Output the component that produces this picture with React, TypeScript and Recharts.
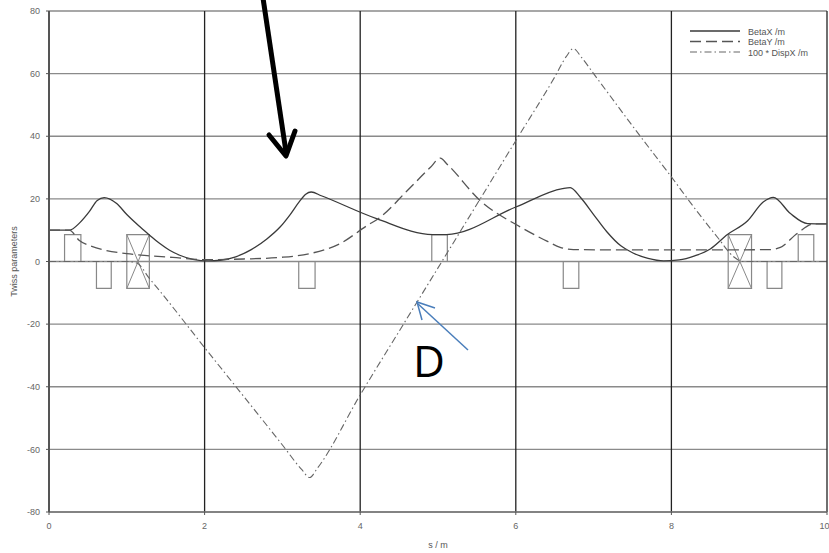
import React from 'react';
import {
  ComposedChart, Line, XAxis, YAxis, CartesianGrid, Legend,
  ReferenceArea, ReferenceLine,
} from 'recharts';

// Twiss functions along the cell
const betaX = [
  { s: 0, v: 10 }, { s: 0.26, v: 10 }, { s: 0.4, v: 12.5 }, { s: 0.52, v: 16 },
  { s: 0.62, v: 19.5 }, { s: 0.71, v: 20.4 }, { s: 0.87, v: 18.5 }, { s: 1.0, v: 15 },
  { s: 1.15, v: 11.5 }, { s: 1.29, v: 8.5 }, { s: 1.42, v: 5.8 }, { s: 1.55, v: 3.6 },
  { s: 1.68, v: 2.0 }, { s: 1.85, v: 0.7 }, { s: 2.05, v: 0.2 }, { s: 2.2, v: 0.4 },
  { s: 2.4, v: 1.5 }, { s: 2.6, v: 3.8 }, { s: 2.8, v: 7.2 }, { s: 2.97, v: 11 },
  { s: 3.1, v: 15 }, { s: 3.22, v: 19.2 }, { s: 3.3, v: 21.5 }, { s: 3.37, v: 22.2 },
  { s: 3.5, v: 21 }, { s: 4.21, v: 13.7 }, { s: 4.93, v: 8.6 }, { s: 5.11, v: 8.6 },
  { s: 6.0, v: 17.4 }, { s: 6.6, v: 23.3 }, { s: 6.7, v: 23.6 }, { s: 6.83, v: 20.5 },
  { s: 7.0, v: 15 }, { s: 7.17, v: 9.5 }, { s: 7.35, v: 5 }, { s: 7.5, v: 2.8 },
  { s: 7.7, v: 1 }, { s: 7.9, v: 0.2 }, { s: 8.1, v: 0.5 }, { s: 8.3, v: 1.8 },
  { s: 8.5, v: 4 }, { s: 8.72, v: 8.6 }, { s: 8.98, v: 13 }, { s: 9.18, v: 19 },
  { s: 9.31, v: 20.5 }, { s: 9.53, v: 15.3 }, { s: 9.75, v: 12.1 }, { s: 10, v: 12 },
];

const betaY = [
  { s: 0, v: 10 }, { s: 0.26, v: 10 }, { s: 0.39, v: 6.7 }, { s: 0.55, v: 4.8 },
  { s: 0.74, v: 3.5 }, { s: 1.0, v: 2.5 }, { s: 1.3, v: 1.8 }, { s: 1.59, v: 1.3 },
  { s: 2.02, v: 0.6 }, { s: 2.5, v: 0.8 }, { s: 2.97, v: 1.3 }, { s: 3.35, v: 2.5 },
  { s: 3.74, v: 5.7 }, { s: 4.09, v: 11.5 }, { s: 4.25, v: 14 }, { s: 4.6, v: 22.5 },
  { s: 4.9, v: 30 }, { s: 5.03, v: 33 }, { s: 5.12, v: 31 }, { s: 5.54, v: 19.5 },
  { s: 6.06, v: 11 }, { s: 6.4, v: 6.5 }, { s: 6.57, v: 4.5 }, { s: 6.74, v: 3.8 },
  { s: 7.5, v: 3.7 }, { s: 8.5, v: 3.7 }, { s: 9.27, v: 3.8 }, { s: 9.4, v: 4.5 },
  { s: 9.62, v: 9 }, { s: 9.83, v: 12 }, { s: 10, v: 12 },
];

const dispX = [
  { s: 0, v: 0 }, { s: 1.0, v: 0 }, { s: 1.13, v: -0.5 }, { s: 1.29, v: -5.4 },
  { s: 1.42, v: -9.3 }, { s: 2.0, v: -27.5 }, { s: 2.5, v: -43 }, { s: 3.0, v: -58.6 },
  { s: 3.25, v: -66.5 }, { s: 3.35, v: -69 }, { s: 3.45, v: -66 }, { s: 4.0, v: -42.6 },
  { s: 4.5, v: -22.3 }, { s: 4.9, v: -6.1 }, { s: 5.54, v: 19.9 }, { s: 6.02, v: 39.4 },
  { s: 6.5, v: 58.9 }, { s: 6.65, v: 65.5 }, { s: 6.74, v: 68 }, { s: 6.85, v: 65 },
  { s: 7.0, v: 60 }, { s: 7.6, v: 40 }, { s: 8.0, v: 27 }, { s: 8.33, v: 16 },
  { s: 8.6, v: 7.5 }, { s: 8.8, v: 1.5 }, { s: 8.92, v: 0 }, { s: 10, v: 0 },
];

// lattice elements: [start, end, bottom, top]
const magnets = [
  [0.2, 0.41, 0, 8.6], [0.61, 0.8, -8.6, 0], [3.21, 3.42, -8.6, 0],
  [4.92, 5.12, 0, 8.6], [6.61, 6.81, -8.6, 0], [9.23, 9.42, -8.6, 0],
  [9.63, 9.83, 0, 8.6],
];
const crossedBoxes = [[1.0, 1.29, -8.6, 8.6], [8.73, 9.03, -8.6, 8.6]];

const xTicks = [0, 2, 4, 6, 8, 10];
const yTicks = [-80, -60, -40, -20, 0, 20, 40, 60, 80];

const FONT = "'Liberation Sans Narrow', 'Liberation Sans', Arial, sans-serif";

const series = [
  { name: 'BetaX /m', data: betaX, stroke: '#3a3a3a', dash: undefined, width: 1.3 },
  { name: 'BetaY /m', data: betaY, stroke: '#555', dash: '11 5', width: 1.3 },
  { name: '100 * DispX /m', data: dispX, stroke: '#666', dash: '7 3 1.5 3', width: 1.1 },
];

const LegendBox = () => (
  <svg width={140} height={36}>
    {series.map((s, i) => (
      <g key={s.name}>
        <line x1={2} x2={52} y1={5 + i * 10.5} y2={5 + i * 10.5}
          stroke={s.stroke} strokeWidth={s.width} strokeDasharray={s.dash} />
        <text x={60} y={8.5 + i * 10.5} fontSize={9} fill="#555" fontFamily={FONT}>{s.name}</text>
      </g>
    ))}
  </svg>
);

const YLabel = (props: any) => {
  const vb = props.viewBox || { y: 11, height: 501 };
  const cy = vb.y + vb.height / 2;
  return (
    <text x={14} y={cy} transform={`rotate(-90 14 ${cy})`} textAnchor="middle"
      dominantBaseline="central" fontSize={9} fill="#555" fontFamily={FONT}>
      Twiss parameters
    </text>
  );
};

const XLabel = (props: any) => {
  const vb = props.viewBox || { x: 49, width: 778 };
  return (
    <text x={vb.x + vb.width / 2} y={548} textAnchor="middle" fontSize={9}
      fill="#555" fontFamily={FONT}>
      s / m
    </text>
  );
};

export default function App() {
  return (
    <div style={{ position: 'absolute', left: 0, top: 0, width: 829, height: 553, background: '#fff' }}>
      <ComposedChart width={829} height={553} margin={{ top: 11, right: 2, bottom: 11, left: 0 }}>
        <CartesianGrid horizontal vertical={false} stroke="#8a8a8a" strokeWidth={1.3} />
        <CartesianGrid horizontal={false} vertical stroke="#222" strokeWidth={1.3} />
        <XAxis type="number" dataKey="s" domain={[0, 10]} ticks={xTicks} height={30}
          allowDataOverflow tickSize={3} tickMargin={8}
          axisLine={{ stroke: '#777', strokeWidth: 1.5 }} tickLine={{ stroke: '#555' }}
          tick={{ fontSize: 9, fill: '#666', fontFamily: FONT }}
          label={<XLabel />} />
        <YAxis type="number" domain={[-80, 80]} ticks={yTicks} width={49}
          allowDataOverflow tickSize={3} tickMargin={6}
          axisLine={{ stroke: '#555', strokeWidth: 2 }} tickLine={{ stroke: '#555' }}
          tick={{ fontSize: 9, fill: '#666', fontFamily: FONT }}
          label={<YLabel />} />
        {magnets.map((m, i) => (
          <ReferenceArea key={`m${i}`} x1={m[0]} x2={m[1]} y1={m[2]} y2={m[3]}
            fill="none" fillOpacity={0} stroke="#888" strokeWidth={1.2} />
        ))}
        {crossedBoxes.map((b, i) => (
          <ReferenceArea key={`b${i}`} x1={b[0]} x2={b[1]} y1={b[2]} y2={b[3]}
            fill="none" fillOpacity={0} stroke="#888" strokeWidth={1.2} />
        ))}
        {crossedBoxes.map((b, i) => (
          <ReferenceLine key={`d1${i}`} segment={[{ x: b[0], y: b[2] }, { x: b[1], y: b[3] }]}
            stroke="#888" strokeWidth={1} />
        ))}
        {crossedBoxes.map((b, i) => (
          <ReferenceLine key={`d2${i}`} segment={[{ x: b[0], y: b[3] }, { x: b[1], y: b[2] }]}
            stroke="#888" strokeWidth={1} />
        ))}
        {series.map((s) => (
          <Line key={s.name} name={s.name} data={s.data} dataKey="v" type="monotone"
            stroke={s.stroke} strokeWidth={s.width} strokeDasharray={s.dash}
            dot={false} activeDot={false} isAnimationActive={false} />
        ))}
        <Legend layout="horizontal" verticalAlign="middle" align="center"
          content={() => <LegendBox />}
          wrapperStyle={{ top: 26, left: 688, width: 140, height: 36 }} />
      </ComposedChart>
      {/* hand-drawn annotations on top of the chart */}
      <svg width={829} height={553} style={{ position: 'absolute', left: 0, top: 0, pointerEvents: 'none' }}>
        <line x1={263} y1={-2} x2={286} y2={152} stroke="#000" strokeWidth={5} />
        <polyline points="269,135 286,156 295,131" fill="none" stroke="#000" strokeWidth={5}
          strokeLinecap="round" strokeLinejoin="round" />
        <line x1={468} y1={350} x2={417} y2={303} stroke="#4a7ebb" strokeWidth={1.5} />
        <polyline points="435,308 417,302 422,320" fill="none" stroke="#4a7ebb" strokeWidth={1.5} />
        <text x={413} y={377} fontSize={44} fill="#000" fontFamily="'Open Sans', 'Liberation Sans', sans-serif">D</text>
      </svg>
    </div>
  );
}
